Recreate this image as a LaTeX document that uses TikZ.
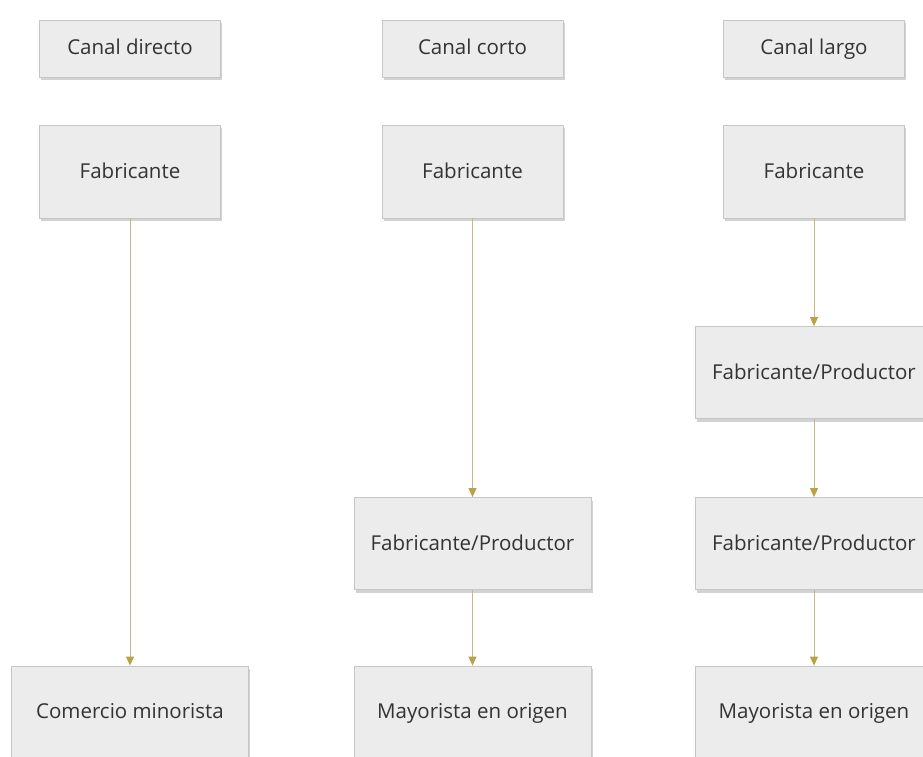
\documentclass[tikz,border=0pt]{standalone}
\usepackage{fontspec}
\setmainfont{Open Sans}
\usetikzlibrary{arrows.meta,shadows}
\definecolor{boxfill}{HTML}{ECECEC}
\definecolor{boxline}{HTML}{C6C6C6}
\definecolor{flecha}{HTML}{C8B784}
\definecolor{punta}{HTML}{B8A446}
\tikzset{
  caja/.style={draw=boxline,fill=boxfill,line width=0.8pt,
    drop shadow={shadow xshift=1.5pt,shadow yshift=-3pt,fill=black!35,opacity=0.5},
    font=\fontsize{20.5}{24}\selectfont,text=black!80,inner sep=0pt,
    text height=1.3em,text depth=0em},
  titulo/.style={caja,minimum width=181pt,minimum height=57pt},
  fab/.style={caja,minimum width=181pt,minimum height=93pt},
  ancha/.style={caja,minimum width=237pt,minimum height=92pt},
  flujo/.style={draw=flecha,line width=1pt,-{Triangle[width=8pt,length=9pt,color=punta,fill=punta]}}
}
\begin{document}
\begin{tikzpicture}[x=1pt,y=-1pt]
\useasboundingbox (0,0) rectangle (923,757);
% Canales de distribucion
\node[titulo] (t1) at (130,48.5) {Canal directo};
\node[titulo] (t2) at (472.5,48.5) {Canal corto};
\node[titulo] (t3) at (814,48.5) {Canal largo};
\node[fab] (f1) at (130,171.5) {Fabricante};
\node[fab] (f2) at (472.5,171.5) {Fabricante};
\node[fab] (f3) at (814,171.5) {Fabricante};
% canal directo
\node[ancha] (cm) at (130,712) {Comercio minorista};
% canal corto
\node[ancha] (fp2) at (472.5,543.5) {Fabricante/Productor};
\node[ancha] (mo2) at (472.5,712) {Mayorista en origen};
% canal largo
\node[ancha] (fpa) at (814,372.5) {Fabricante/Productor};
\node[ancha] (fpb) at (814,543.5) {Fabricante/Productor};
\node[ancha] (mo3) at (814,712) {Mayorista en origen};
\draw[flujo] (f1) -- (cm);
\draw[flujo] (f2) -- (fp2);
\draw[flujo] (fp2) -- (mo2);
\draw[flujo] (f3) -- (fpa);
\draw[flujo] (fpa) -- (fpb);
\draw[flujo] (fpb) -- (mo3);
\end{tikzpicture}
\end{document}
